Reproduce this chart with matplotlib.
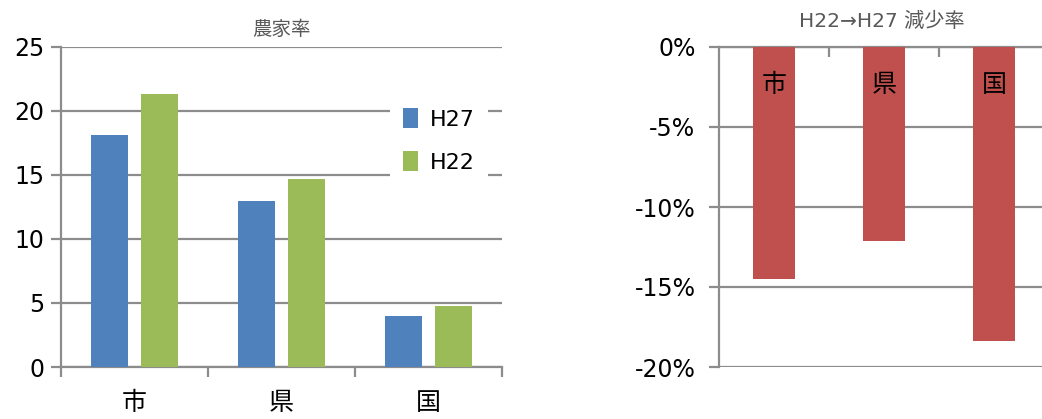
import numpy as np
import matplotlib
matplotlib.use("Agg")
import matplotlib.pyplot as plt
from matplotlib.ticker import FuncFormatter, FixedLocator

plt.rcParams['font.family'] = ['DejaVu Sans', 'Noto Sans CJK JP']

# data
categories = ['市', '県', '国']
h27 = [18.1, 13.0, 4.0]
h22 = [21.3, 14.7, 4.8]
decline = [-0.145, -0.121, -0.184]

BLUE = '#4F81BD'
GREEN = '#9BBB59'
RED = '#C0504D'
GRID = '#8C8C8C'

fig = plt.figure(figsize=(10.42, 4.19), dpi=100)

# left chart: 農家率
ax1 = fig.add_axes([61 / 1042, 1 - 367 / 419, 441 / 1042, 320 / 419])
x = np.arange(len(categories))
w = 0.25
ax1.bar(x - 0.17, h27, w, color=BLUE, label='H27', zorder=3)
ax1.bar(x + 0.17, h22, w, color=GREEN, label='H22', zorder=3)
ax1.set_xlim(-0.5, 2.5)
ax1.set_ylim(0, 25)
ax1.set_yticks([0, 5, 10, 15, 20, 25])
ax1.yaxis.grid(True, color=GRID, linewidth=1.6, zorder=0)
ax1.set_axisbelow(True)
ax1.xaxis.set_major_locator(FixedLocator([-0.5, 0.5, 1.5, 2.5]))
ax1.set_xticklabels([])
ax1.xaxis.set_minor_locator(FixedLocator(x))
ax1.set_xticklabels(categories, minor=True)
ax1.tick_params(axis='x', which='minor', length=0, pad=17, labelsize=18)
ax1.tick_params(axis='x', which='major', length=7, width=1.6, color=GRID)
ax1.tick_params(axis='y', length=7, width=1.6, color=GRID, pad=5, labelsize=17)
for s in ['top', 'right']:
    ax1.spines[s].set_visible(False)
for s in ['left', 'bottom']:
    ax1.spines[s].set_color(GRID)
    ax1.spines[s].set_linewidth(1.6)
ax1.set_title('農家率', fontsize=14, color='#595959', pad=9)
leg = ax1.legend(loc='upper left', bbox_to_anchor=(0.745, 0.85), fontsize=16,
                 frameon=True, fancybox=False, handlelength=0.7, handleheight=1.0,
                 labelspacing=0.95, handletextpad=0.5, borderpad=0.6,
                 borderaxespad=0)
leg.get_frame().set_edgecolor('none')
leg.get_frame().set_facecolor('white')
leg.get_frame().set_alpha(1)

# right chart: H22→H27 減少率
ax2 = fig.add_axes([719 / 1042, 1 - 367 / 419, 330 / 1042, 320 / 419])
ax2.bar(x, decline, 0.39, color=RED, zorder=3)
ax2.set_xlim(-0.5, 2.5)
ax2.set_ylim(-0.20, 0)
ax2.set_yticks([0, -0.05, -0.10, -0.15, -0.20])
ax2.yaxis.set_major_formatter(FuncFormatter(lambda v, p: '%d%%' % round(v * 100)))
ax2.yaxis.grid(True, color=GRID, linewidth=1.6, zorder=0)
ax2.set_axisbelow(True)
ax2.xaxis.tick_top()
ax2.xaxis.set_major_locator(FixedLocator([0.5, 1.5]))
ax2.set_xticklabels([])
ax2.tick_params(axis='x', direction='in', length=7, width=1.6, color=GRID)
ax2.tick_params(axis='y', length=7, width=1.6, color=GRID, pad=10, labelsize=17)
for s in ['right', 'bottom']:
    ax2.spines[s].set_visible(False)
for s in ['left', 'top']:
    ax2.spines[s].set_color(GRID)
    ax2.spines[s].set_linewidth(1.6)
for i, c in enumerate(categories):
    ax2.text(x[i], -0.024, c, ha='center', va='center', fontsize=18, color='black', zorder=4)
fig.text(882 / 1042, 1 - 21 / 419, 'H22→H27 減少率', ha='center', va='center',
         fontsize=14.5, color='#595959')

fig.savefig('out.png', dpi=100)
